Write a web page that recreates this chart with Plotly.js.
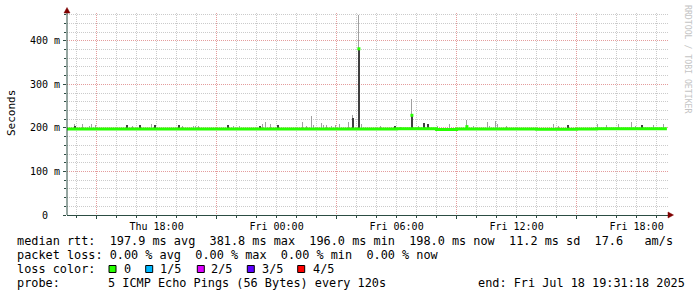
<!DOCTYPE html>
<html><head><meta charset="utf-8">
<script src="https://cdn.plot.ly/plotly-3.0.1.min.js"></script>
<style>html,body{margin:0;padding:0;background:#fff;}#chart{width:697px;height:297px;}</style>
</head><body><div id="chart"></div>
<script>
// ---------- data ----------
const startTime = '2025-07-17 13:31:18';
const endTime = '2025-07-18 19:31:18';

const medianTimes = ['2025-07-17 13:31','2025-07-17 14:00','2025-07-17 15:00','2025-07-17 16:00','2025-07-17 17:00','2025-07-17 18:00','2025-07-17 19:00','2025-07-17 20:00','2025-07-17 21:00','2025-07-17 22:00','2025-07-17 23:00','2025-07-18 00:00','2025-07-18 01:00','2025-07-18 02:00','2025-07-18 03:00','2025-07-18 04:00','2025-07-18 05:00','2025-07-18 06:00','2025-07-18 07:00','2025-07-18 08:00','2025-07-18 09:00','2025-07-18 10:00','2025-07-18 11:00','2025-07-18 12:00','2025-07-18 13:00','2025-07-18 14:00','2025-07-18 15:00','2025-07-18 16:00','2025-07-18 17:00','2025-07-18 18:00','2025-07-18 19:00','2025-07-18 19:31'];
const medianRtt = [197.5,197.5,197.3,197.5,197.5,197.3,197.5,197.3,197.5,197.5,197.6,197.5,197.6,197.7,197.8,197.8,197.6,197.9,197.9,196.5,197.4,197.6,197.3,197.3,197.2,197.2,197.4,198.0,198.0,198.0,198.0,198.0];

const smokeTimes = ['2025-07-17 13:55','2025-07-17 14:19','2025-07-17 14:40','2025-07-17 14:46','2025-07-17 14:58','2025-07-17 16:19','2025-07-17 16:31','2025-07-17 16:49','2025-07-17 17:10','2025-07-17 17:46','2025-07-17 17:55','2025-07-17 19:07','2025-07-17 19:19','2025-07-17 19:52','2025-07-17 19:58','2025-07-17 20:07','2025-07-17 21:34','2025-07-17 21:52','2025-07-17 22:10','2025-07-17 23:10','2025-07-17 23:19','2025-07-17 23:28','2025-07-17 23:43','2025-07-18 00:04','2025-07-18 00:43','2025-07-18 01:19','2025-07-18 01:31','2025-07-18 01:46','2025-07-18 01:52','2025-07-18 02:16','2025-07-18 02:22','2025-07-18 02:31','2025-07-18 02:46','2025-07-18 02:58','2025-07-18 03:10','2025-07-18 03:37','2025-07-18 03:49','2025-07-18 04:07','2025-07-18 04:16','2025-07-18 05:13','2025-07-18 05:55','2025-07-18 06:13','2025-07-18 06:46','2025-07-18 07:07','2025-07-18 07:22','2025-07-18 07:34','2025-07-18 08:04','2025-07-18 08:40','2025-07-18 09:31','2025-07-18 09:52','2025-07-18 10:07','2025-07-18 10:34','2025-07-18 10:40','2025-07-18 10:58','2025-07-18 11:04','2025-07-18 11:31','2025-07-18 13:52','2025-07-18 14:07','2025-07-18 14:34','2025-07-18 16:04','2025-07-18 16:31','2025-07-18 17:07','2025-07-18 17:46','2025-07-18 17:58','2025-07-18 18:16','2025-07-18 18:52','2025-07-18 19:22'];
const smokeMax = [209,209,204,210,206.5,201,206,204,206,209,206,206.5,204,204,204,204,206.5,204,204,203.5,210,213,209,206.5,201,213,204,227,206.5,211.5,206.5,206.5,204,206.5,209,213,229.5,459,210,204,204,203,266,204,211.5,209,204,209,218.5,204,201,213,204,217,209,204,209,204,206.5,209,206.5,209,213,204,206.5,206.5,209];
const smokeInner = [204,null,null,null,null,null,206,null,206,null,206,206.5,null,null,null,null,206.5,null,null,203.5,null,null,null,206.5,null,null,null,null,null,null,null,null,null,null,null,null,223,382,null,null,204,null,229,null,211.5,209,null,null,null,null,null,null,null,null,null,null,null,null,206.5,null,null,null,null,null,206.5,null,null];
const minRtt = 196.0;

const peakMedianTimes = ['2025-07-18 04:07','2025-07-18 06:46','2025-07-18 09:31'];
const peakMedianRtt = [381.8, 229, 203];

const xLabelVals = ['2025-07-17 18:00','2025-07-18 00:00','2025-07-18 06:00','2025-07-18 12:00','2025-07-18 18:00'];
const xLabelText = ['Thu 18:00','Fri 00:00','Fri 06:00','Fri 12:00','Fri 18:00'];
const xMajorGrid = ['2025-07-17 15:00','2025-07-17 21:00','2025-07-18 03:00','2025-07-18 09:00','2025-07-18 15:00'];
const yTickVals = [0,100,200,300,400];
const yTickText = ['0  ','100 m','200 m','300 m','400 m'];

const rttStats = {avg:'197.9', max:'381.8', min:'196.0', now:'198.0', sd:'11.2', amps:'17.6'};
const lossStats = {avg:'0.00', max:'0.00', min:'0.00', now:'0.00'};
const lossLabels = ['0','1/5','2/5','3/5','4/5'];
const lossColors = ['#26ff00','#00b8ff','#dd00ff','#5e00ff','#ff0000'];
const probeText = '5 ICMP Echo Pings (56 Bytes) every 120s';
const endText = 'end: Fri Jul 18 19:31:18 2025';

// ---------- layout helpers ----------
const L=67, R=669, T=13, B=215;
const px = x => (x-L)/(R-L);
const py = y => (B-y)/(B-T);
const nb = s => s.replace(/ /g,'\u00a0');
const mono = 'DejaVu Sans Mono, monospace';
const rangeEnd = '2025-07-18 19:37:18';

const traces = [
  {type:'bar', x:smokeTimes, y:smokeMax.map(v=>v-minRtt), base:minRtt, width:200000,
   marker:{color:'#a0a0a0', line:{width:0}}, hoverinfo:'skip', showlegend:false},
  {type:'bar', x:smokeTimes, y:smokeInner.map(v=>v==null?null:v-minRtt), base:minRtt, width:300000,
   marker:{color:'#404040', line:{width:0}}, hoverinfo:'skip', showlegend:false},
  {type:'scatter', mode:'lines', x:medianTimes, y:medianRtt, line:{color:'#26ff00', width:3, shape:'hv'},
   hoverinfo:'skip', showlegend:false},
  {type:'scatter', mode:'markers', x:peakMedianTimes, y:peakMedianRtt,
   marker:{color:'#26ff00', symbol:'square', size:3, line:{width:0}}, hoverinfo:'skip', showlegend:false},
  {type:'scatter', x:[], y:[], xaxis:'x2', hoverinfo:'skip', showlegend:false}
];

const gridMinor = '#cbcbcb';
const gridMajor = '#e49c9c';
const axisCol = '#2C4D43';

const ann = [];
function txt(x, y, s, opt){
  ann.push(Object.assign({xref:'paper', yref:'paper', x:px(x), y:py(y), text:nb(s), showarrow:false,
    xanchor:'left', yanchor:'middle', borderpad:0, font:{family:mono, size:11.85, color:'#000'}}, opt||{}));
}
txt(15.5, 241.5, 'median rtt:  '+rttStats.avg+' ms avg  '+rttStats.max+' ms max  '+rttStats.min+' ms min  '+rttStats.now+' ms now  '+rttStats.sd+' ms sd  '+rttStats.amps+'   am/s');
txt(15.5, 255.3, 'packet loss: '+lossStats.avg+' % avg  '+lossStats.max+' % max  '+lossStats.min+' % min  '+lossStats.now+' % now');
txt(15.5, 269, 'loss color:');
const boxX = [109, 145.7, 197.3, 247.3, 297.7];
const labX = [122.5, 159, 210, 261, 312];
const shapes = [];
lossLabels.forEach((lab,i)=>{
  txt(labX[i], 269, lab);
  shapes.push({type:'rect', xref:'paper', yref:'paper', x0:px(boxX[i]), x1:px(boxX[i]+7), y0:py(265.5), y1:py(272.5),
    fillcolor:lossColors[i], line:{color:'#000', width:1}});
});
txt(15.5, 282.7, 'probe:');
txt(107, 282.7, probeText);
txt(477, 282.7, endText);
// y title
ann.push({xref:'paper', yref:'paper', x:px(11), y:py(113), text:'Seconds', textangle:-90, showarrow:false,
  xanchor:'center', yanchor:'middle', font:{family:mono, size:11, color:'#000'}});
// watermark
ann.push({xref:'paper', yref:'paper', x:px(688), y:py(59), text:nb('RRDTOOL / TOBI OETIKER'), textangle:90, showarrow:false,
  xanchor:'center', yanchor:'middle', font:{family:mono, size:8.2, color:'#c4c4c4'}});

// axis extensions and arrows
shapes.push({type:'line', xref:'paper', yref:'paper', x0:px(67), x1:px(67), y0:py(215), y1:py(10), line:{color:axisCol, width:1}});
shapes.push({type:'path', xref:'paper', yref:'paper',
  path:'M '+px(64)+' '+py(13)+' L '+px(70)+' '+py(13)+' L '+px(67)+' '+py(7.5)+' Z', fillcolor:'#7f0000', line:{color:'#7f0000', width:0.5}});
shapes.push({type:'path', xref:'paper', yref:'paper',
  path:'M '+px(668)+' '+py(212)+' L '+px(668)+' '+py(218)+' L '+px(673.5)+' '+py(215)+' Z', fillcolor:'#7f0000', line:{color:'#7f0000', width:0.5}});

const layout = {
  width:697, height:297, margin:{l:L, r:697-R, t:T, b:297-B, pad:0},
  paper_bgcolor:'#fff', plot_bgcolor:'#fff', barmode:'overlay', bargap:0,
  xaxis:{type:'date', range:[startTime, rangeEnd], tickmode:'array', tickvals:xLabelVals, ticktext:xLabelText,
    showgrid:false, zeroline:false, showline:true, linecolor:axisCol, linewidth:1,
    ticks:'', ticklabelstandoff:2, tickfont:{family:mono, size:10, color:'#000'},
    minor:{tickmode:'linear', tick0:'2025-07-17 14:00:00', dtick:3600000, showgrid:true, gridcolor:gridMinor,
      griddash:'1px,1px', gridwidth:1, ticks:'outside', ticklen:2, tickcolor:axisCol}},
  xaxis2:{type:'date', overlaying:'x', anchor:'y', range:[startTime, rangeEnd], tickmode:'array', tickvals:xMajorGrid,
    showticklabels:false, showgrid:true, gridcolor:gridMajor, griddash:'1px,1px', gridwidth:1, zeroline:false,
    ticks:'outside', ticklen:3, tickcolor:axisCol, showline:false},
  yaxis:{range:[0,464], tickmode:'array', tickvals:yTickVals, ticktext:yTickText.map(nb),
    showgrid:true, gridcolor:gridMajor, griddash:'1px,1px', gridwidth:1, zeroline:false,
    showline:false, ticks:'outside', ticklen:3, tickcolor:axisCol, ticklabelstandoff:1,
    tickfont:{family:mono, size:10, color:'#000'},
    minor:{tickmode:'linear', tick0:0, dtick:20, showgrid:true, gridcolor:gridMinor, griddash:'1px,1px', gridwidth:1,
      ticks:'outside', ticklen:2, tickcolor:axisCol}},
  shapes:shapes, annotations:ann, showlegend:false
};

Plotly.newPlot('chart', traces, layout, {staticPlot:true, displayModeBar:false});
</script></body></html>
